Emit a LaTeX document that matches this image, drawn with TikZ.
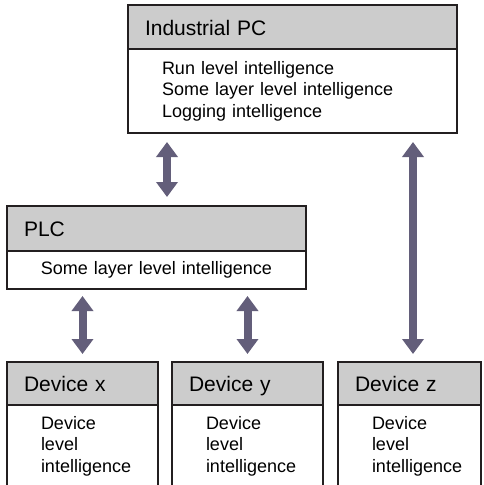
\documentclass[tikz,border=0pt]{standalone}
\usepackage{fontspec}
\setmainfont{Liberation Sans}
\usetikzlibrary{arrows.meta,positioning}
\definecolor{hdrgray}{RGB}{204,204,204}
\definecolor{linkpurple}{RGB}{99,94,122}
\definecolor{edgeblack}{RGB}{35,31,32}

\begin{document}
\begin{tikzpicture}[
    x=1pt, y=1pt,
    hdr/.style={draw=edgeblack, line width=1.6pt, fill=hdrgray, outer sep=0pt, inner xsep=17pt, inner ysep=0pt, minimum height=44pt, text height=16pt, text depth=0pt, align=left, anchor=north west, font=\fontsize{21}{25}\selectfont},
    body/.style={draw=edgeblack, line width=1.6pt, fill=white, outer sep=0pt, inner xsep=34pt, inner ysep=0pt, align=left, font=\fontsize{18}{21.5}\selectfont, execute at begin node={\hyphenpenalty=10000\relax}},
    link/.style={{Triangle[width=21pt,length=15pt]}-{Triangle[width=21pt,length=15pt]}, line width=8pt, linkpurple}
]
\useasboundingbox (0,0) rectangle (483,-485);
\clip (0,0) rectangle (483,-485);

% Industrial PC
\node[hdr, text width=295pt] (ipch) at (128,-5) {Industrial PC};
\node[body, below=0pt of ipch.south west, anchor=north west, text width=261pt, minimum height=84pt] (ipcb) {Run level intelligence\\Some layer level intelligence\\Logging intelligence};

% PLC
\node[hdr, text width=265pt, minimum height=45pt] (plch) at (7,-206) {PLC};
\node[body, below=0pt of plch.south west, anchor=north west, inner xsep=8pt, align=center, text width=283pt, minimum height=38pt] (plcb) {Some layer level intelligence};

% Devices
\node[hdr, text width=117pt, minimum height=43pt] (devxh) at (7,-362) {Device x};
\node[body, below=0pt of devxh.south west, anchor=north west, text width=83pt, minimum height=82pt] (devxb) {Device\\level\\intelligence};

\node[hdr, text width=117pt, minimum height=43pt] (devyh) at (172,-362) {Device y};
\node[body, below=0pt of devyh.south west, anchor=north west, text width=83pt, minimum height=82pt] (devyb) {Device\\level\\intelligence};

\node[hdr, text width=109pt, minimum height=43pt] (devzh) at (338,-362) {Device z};
\node[body, below=0pt of devzh.south west, anchor=north west, text width=75pt, minimum height=82pt] (devzb) {Device\\level\\intelligence};

% Links
\draw[link] ([shift={(39,-9)}]ipcb.south west) -- ([shift={(160,9)}]plch.north west);
\draw[link] ([shift={(3.5,-9)}]ipcb.south -| devzh.north) -- ([shift={(3.5,8)}]devzh.north);
\draw[link] ([yshift=-7pt]plcb.south -| devxh.north) -- ([yshift=8pt]devxh.north);
\draw[link] ([yshift=-7pt]plcb.south -| devyh.north) -- ([yshift=8pt]devyh.north);
\end{tikzpicture}
\end{document}
